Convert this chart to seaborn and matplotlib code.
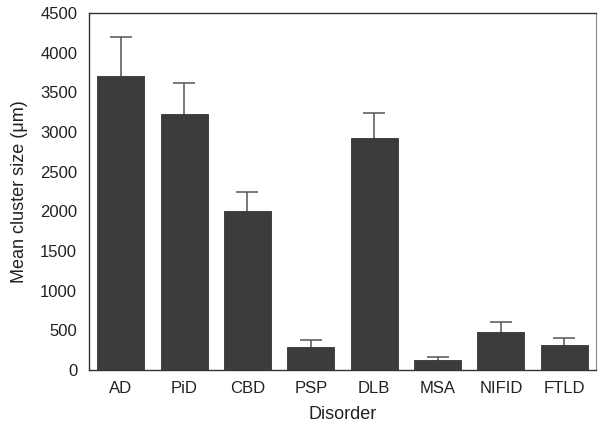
import matplotlib
matplotlib.use("Agg")
import matplotlib.pyplot as plt
import seaborn as sns
import numpy as np
import pandas as pd

disorders = ["AD", "PiD", "CBD", "PSP", "DLB", "MSA", "NIFID", "FTLD"]
means = [3700, 3230, 2005, 290, 2925, 130, 485, 310]
upper = [4200, 3620, 2250, 375, 3235, 168, 610, 400]
errs = [u - m for u, m in zip(upper, means)]

sns.set_theme(style="white")
plt.rcParams['font.family'] = ['Liberation Sans', 'DejaVu Sans']

df = pd.DataFrame({"Disorder": disorders, "Mean": means})

fig = plt.figure(figsize=(6.04, 4.25), dpi=100)
ax = fig.add_axes([89/604, 1 - 370/425, (596-89)/604, (370-13)/425])

sns.barplot(data=df, x="Disorder", y="Mean", color="#3c3c3c", width=0.74,
            saturation=1, ax=ax, errorbar=None, edgecolor="#333333", linewidth=0.6,
            zorder=3)
ax.errorbar(np.arange(len(disorders)), means, yerr=errs,
            fmt="none", ecolor="#555555", elinewidth=1.1, capsize=8, capthick=1.1, zorder=1)

ax.set_ylim(0, 4500)
ax.set_xlim(-0.5, len(disorders) - 0.5)
ax.set_yticks(np.arange(0, 4501, 500))
ax.tick_params(axis="y", length=0, labelsize=12, colors="#222222", pad=8.5)
ax.tick_params(axis="x", length=0, labelsize=12, colors="#222222", pad=8)
ax.set_ylabel("Mean cluster size (\u03bcm)", fontsize=13, color="#222222", labelpad=9)
ax.set_xlabel("Disorder", fontsize=13, color="#222222", labelpad=7)
for side in ["left", "bottom", "top"]:
    ax.spines[side].set_color("#333333")
    ax.spines[side].set_linewidth(1.0)
ax.spines["right"].set_color("#888888")
ax.spines["right"].set_linewidth(0.8)

fig.savefig("out.png", dpi=100)
